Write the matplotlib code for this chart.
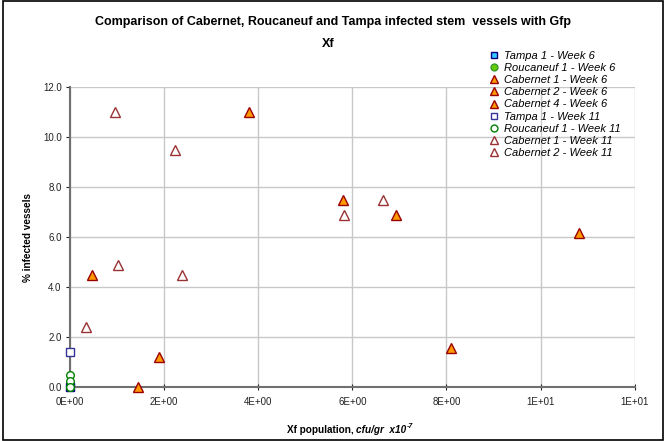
import matplotlib
matplotlib.use("Agg")
import matplotlib.pyplot as plt
from matplotlib.patches import Rectangle
from matplotlib.ticker import FuncFormatter

plt.rcParams["font.family"] = ["Liberation Sans", "DejaVu Sans"]

# infected vessels (%) vs Xf population (cfu/gr x 10^-7)
tampa1_w6_x = [0.0]
tampa1_w6_y = [0.0]
rouc1_w6_x = [0.0]
rouc1_w6_y = [0.0]
cab1_w6_x = [0.47, 1.45, 3.80]
cab1_w6_y = [4.5, 0.0, 11.0]
cab2_w6_x = [1.89, 5.80, 8.09]
cab2_w6_y = [1.2, 7.5, 1.55]
cab4_w6_x = [6.92, 10.81]
cab4_w6_y = [6.9, 6.15]
tampa1_w11_x = [0.0]
tampa1_w11_y = [1.4]
rouc1_w11_x = [0.0, 0.0, 0.0]
rouc1_w11_y = [0.5, 0.25, 0.0]
cab1_w11_x = [0.33, 0.96, 2.23, 5.82]
cab1_w11_y = [2.4, 11.0, 9.5, 6.9]
cab2_w11_x = [1.03, 2.38, 6.65]
cab2_w11_y = [4.9, 4.5, 7.5]

x_ticks = [0, 2, 4, 6, 8, 10, 12]
y_ticks = [0, 2, 4, 6, 8, 10, 12]

fig = plt.figure(figsize=(6.66, 4.41), dpi=100)
ax = fig.add_axes([70 / 666, 1 - 387 / 441, 564.7 / 666, 300 / 441])

orange = dict(marker="^", ms=6.5, mfc="#FF9900", mec="#990000", mew=1.0)
hollow_tri = dict(marker="^", ms=6.5, mfc="white", mec="#993333", mew=1.0)

series = [
    (tampa1_w6_x, tampa1_w6_y, "Tampa 1 - Week 6",
     dict(marker="s", ms=5.5, mfc="#33CCFF", mec="#000080", mew=1.0)),
    (rouc1_w6_x, rouc1_w6_y, "Roucaneuf 1 - Week 6",
     dict(marker="o", ms=5.5, mfc="#66CC00", mec="#339933", mew=1.0)),
    (cab1_w6_x, cab1_w6_y, "Cabernet 1 - Week 6", orange),
    (cab2_w6_x, cab2_w6_y, "Cabernet 2 - Week 6", orange),
    (cab4_w6_x, cab4_w6_y, "Cabernet 4 - Week 6", orange),
    (tampa1_w11_x, tampa1_w11_y, "Tampa 1 - Week 11",
     dict(marker="s", ms=5.5, mfc="white", mec="#333399", mew=1.0)),
    (rouc1_w11_x, rouc1_w11_y, "Roucaneuf 1 - Week 11",
     dict(marker="o", ms=5.5, mfc="white", mec="#008000", mew=1.0)),
    (cab1_w11_x, cab1_w11_y, "Cabernet 1 - Week 11", hollow_tri),
    (cab2_w11_x, cab2_w11_y, "Cabernet 2 - Week 11", hollow_tri),
]

handles = []
for xs, ys, label, style in series:
    h, = ax.plot(xs, ys, linestyle="none", label=label, clip_on=False,
                 zorder=5, **style)
    handles.append(h)

ax.set_xlim(0, 12)
ax.set_ylim(0, 12)
ax.set_xticks(x_ticks)
ax.set_yticks(y_ticks)
ax.xaxis.set_major_formatter(FuncFormatter(lambda v, p: "%.0E" % v if v else "0E+00"))
ax.yaxis.set_major_formatter(FuncFormatter(lambda v, p: "%.1f" % v))
ax.grid(True, color="#C8C8C8", linewidth=1.0)
ax.set_axisbelow(True)
for side in ("top", "right"):
    ax.spines[side].set_visible(False)
for side in ("left", "bottom"):
    ax.spines[side].set_color("#707070")
    ax.spines[side].set_linewidth(1.5)
ax.tick_params(axis="both", labelsize=7, colors="#222222", length=3, width=0.8)
ax.tick_params(axis="x", direction="inout", length=5, pad=5)
ax.tick_params(axis="y", direction="out", pad=3)

ax.set_ylabel("% infected vessels", fontsize=7.2, fontweight="bold", labelpad=7)

# x label mixes bold upright and bold italic text
t1 = fig.text(287 / 666, 1 - 430 / 441, "Xf population, ", fontsize=7.2,
              fontweight="bold", va="center", ha="left")
t2 = ax.annotate("cfu/gr  x10", xy=(1, 0), xycoords=t1, va="bottom", ha="left",
                 fontsize=7.2, fontweight="bold", fontstyle="italic")
ax.annotate("-7", xy=(1, 0.55), xycoords=t2, va="bottom", ha="left",
            fontsize=5, fontweight="bold", fontstyle="italic")

fig.text(0.5, 1 - 22 / 441,
         "Comparison of Cabernet, Roucaneuf and Tampa infected stem  vessels with Gfp",
         ha="center", va="center", fontsize=9, fontweight="bold")
fig.text(0.493, 1 - 44 / 441, "Xf", ha="center", va="center", fontsize=9,
         fontweight="bold")

leg = fig.legend(handles=handles, loc="upper left",
                 bbox_to_anchor=(484 / 666, 1 - 45 / 441), frameon=False,
                 prop=dict(size=8, style="italic"), labelspacing=0.2,
                 handlelength=0.8, handletextpad=0.5, borderpad=0,
                 markerscale=0.9)

fig.patches.append(Rectangle((0.004, 0.003), 0.992, 0.994, transform=fig.transFigure,
                             fill=False, edgecolor="black", linewidth=1.2))

fig.savefig("out.png", dpi=100)
